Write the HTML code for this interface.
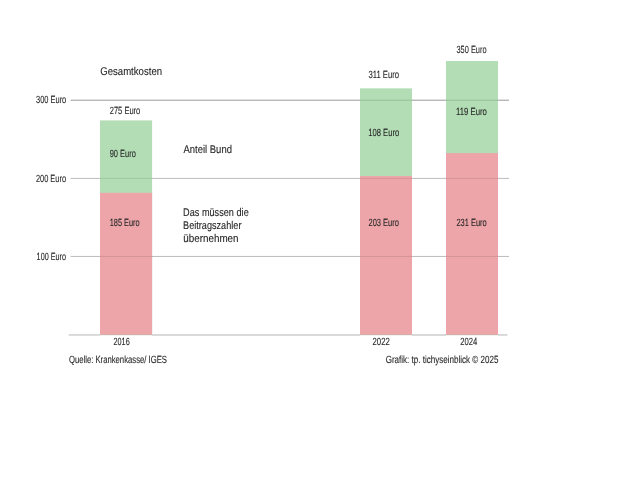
<!DOCTYPE html>
<html lang="de">
<head>
<meta charset="utf-8">
<title>Gesamtkosten</title>
<style>
html,body{margin:0;padding:0;background:#fff;}
body{width:620px;height:479px;overflow:hidden;}
svg{display:block;}
text{font-family:"Liberation Sans",sans-serif;fill:#262626;stroke:#262626;stroke-width:0.1px;text-rendering:geometricPrecision;}
.s{font-size:10.4px;}
.m{font-size:11.2px;}
</style>
</head>
<body>
<svg width="620" height="479" viewBox="0 0 620 479">
<rect width="620" height="479" fill="#fff"/>
<rect x="100" y="120.4" width="52.1" height="214.3" fill="#b3deb5"/>
<rect x="100" y="192.8" width="52.1" height="141.9" fill="#eda5a9"/>
<rect x="360" y="88.35" width="52" height="246.35" fill="#b3deb5"/>
<rect x="360" y="176.0" width="52" height="158.7" fill="#eda5a9"/>
<rect x="446" y="61.0" width="52" height="273.7" fill="#b3deb5"/>
<rect x="446" y="153.1" width="52" height="181.6" fill="#eda5a9"/>
<g stroke="#000">
<line x1="70.6" y1="100.2" x2="360" y2="100.2" stroke-width="1" stroke-opacity="0.4"/>
<line x1="360" y1="100.2" x2="412" y2="100.2" stroke-width="1" stroke-opacity="0.15"/>
<line x1="412" y1="100.2" x2="446" y2="100.2" stroke-width="1" stroke-opacity="0.4"/>
<line x1="446" y1="100.2" x2="498" y2="100.2" stroke-width="1" stroke-opacity="0.15"/>
<line x1="498" y1="100.2" x2="509" y2="100.2" stroke-width="1" stroke-opacity="0.4"/>
<line x1="70.6" y1="178.38" x2="100" y2="178.38" stroke-width="0.75" stroke-opacity="0.36"/>
<line x1="100" y1="178.38" x2="152.1" y2="178.38" stroke-width="0.75" stroke-opacity="0.14"/>
<line x1="152.1" y1="178.38" x2="360" y2="178.38" stroke-width="0.75" stroke-opacity="0.36"/>
<line x1="360" y1="178.38" x2="412" y2="178.38" stroke-width="0.75" stroke-opacity="0.14"/>
<line x1="412" y1="178.38" x2="446" y2="178.38" stroke-width="0.75" stroke-opacity="0.36"/>
<line x1="446" y1="178.38" x2="498" y2="178.38" stroke-width="0.75" stroke-opacity="0.14"/>
<line x1="498" y1="178.38" x2="509" y2="178.38" stroke-width="0.75" stroke-opacity="0.36"/>
<line x1="70.6" y1="256.45" x2="100" y2="256.45" stroke-width="0.75" stroke-opacity="0.36"/>
<line x1="100" y1="256.45" x2="152.1" y2="256.45" stroke-width="0.75" stroke-opacity="0.14"/>
<line x1="152.1" y1="256.45" x2="360" y2="256.45" stroke-width="0.75" stroke-opacity="0.36"/>
<line x1="360" y1="256.45" x2="412" y2="256.45" stroke-width="0.75" stroke-opacity="0.14"/>
<line x1="412" y1="256.45" x2="446" y2="256.45" stroke-width="0.75" stroke-opacity="0.36"/>
<line x1="446" y1="256.45" x2="498" y2="256.45" stroke-width="0.75" stroke-opacity="0.14"/>
<line x1="498" y1="256.45" x2="509" y2="256.45" stroke-width="0.75" stroke-opacity="0.36"/>
<line x1="68.7" y1="334.9" x2="100" y2="334.9" stroke-width="2" stroke-opacity="0.15"/>
<line x1="100" y1="334.9" x2="152.1" y2="334.9" stroke-width="2" stroke-opacity="0.05"/>
<line x1="152.1" y1="334.9" x2="360" y2="334.9" stroke-width="2" stroke-opacity="0.15"/>
<line x1="360" y1="334.9" x2="412" y2="334.9" stroke-width="2" stroke-opacity="0.05"/>
<line x1="412" y1="334.9" x2="446" y2="334.9" stroke-width="2" stroke-opacity="0.15"/>
<line x1="446" y1="334.9" x2="498" y2="334.9" stroke-width="2" stroke-opacity="0.05"/>
<line x1="498" y1="334.9" x2="507.5" y2="334.9" stroke-width="2" stroke-opacity="0.15"/>
</g>
<text class="m" x="100.21" y="75.10" textLength="61.86" lengthAdjust="spacingAndGlyphs">Gesamtkosten</text>
<text class="s" x="36.04" y="103.40" textLength="30.22" lengthAdjust="spacingAndGlyphs">300 Euro</text>
<text class="s" x="35.94" y="181.80" textLength="30.10" lengthAdjust="spacingAndGlyphs">200 Euro</text>
<text class="s" x="36.62" y="259.90" textLength="29.29" lengthAdjust="spacingAndGlyphs">100 Euro</text>
<text class="s" x="109.72" y="114.00" textLength="30.58" lengthAdjust="spacingAndGlyphs">275 Euro</text>
<text class="s" x="109.73" y="157.00" textLength="26.13" lengthAdjust="spacingAndGlyphs">90 Euro</text>
<text class="s" x="109.76" y="226.30" textLength="29.92" lengthAdjust="spacingAndGlyphs">185 Euro</text>
<text class="m" x="183.43" y="152.80" textLength="48.53" lengthAdjust="spacingAndGlyphs">Anteil Bund</text>
<text class="m" x="183.09" y="215.70" textLength="65.65" lengthAdjust="spacingAndGlyphs">Das müssen die</text>
<text class="m" x="183.09" y="228.70" textLength="58.34" lengthAdjust="spacingAndGlyphs">Beitragszahler</text>
<text class="m" x="183.23" y="241.90" textLength="55.34" lengthAdjust="spacingAndGlyphs">übernehmen</text>
<text class="s" x="368.45" y="78.30" textLength="30.71" lengthAdjust="spacingAndGlyphs">311 Euro</text>
<text class="s" x="368.22" y="136.30" textLength="30.98" lengthAdjust="spacingAndGlyphs">108 Euro</text>
<text class="s" x="368.50" y="226.30" textLength="30.47" lengthAdjust="spacingAndGlyphs">203 Euro</text>
<text class="s" x="456.47" y="52.60" textLength="30.06" lengthAdjust="spacingAndGlyphs">350 Euro</text>
<text class="s" x="456.04" y="115.40" textLength="30.87" lengthAdjust="spacingAndGlyphs">119 Euro</text>
<text class="s" x="456.43" y="226.30" textLength="30.29" lengthAdjust="spacingAndGlyphs">231 Euro</text>
<text class="s" x="113.47" y="345.40" textLength="16.23" lengthAdjust="spacingAndGlyphs">2016</text>
<text class="s" x="372.50" y="345.10" textLength="17.30" lengthAdjust="spacingAndGlyphs">2022</text>
<text class="s" x="460.28" y="345.30" textLength="17.04" lengthAdjust="spacingAndGlyphs">2024</text>
<text class="s" x="68.92" y="363.20" textLength="98.07" lengthAdjust="spacingAndGlyphs">Quelle: Krankenkasse/ IGES</text>
<text class="s" x="385.66" y="363.10" textLength="112.71" lengthAdjust="spacingAndGlyphs">Grafik: tp. tichyseinblick © 2025</text>
</svg>
</body>
</html>
